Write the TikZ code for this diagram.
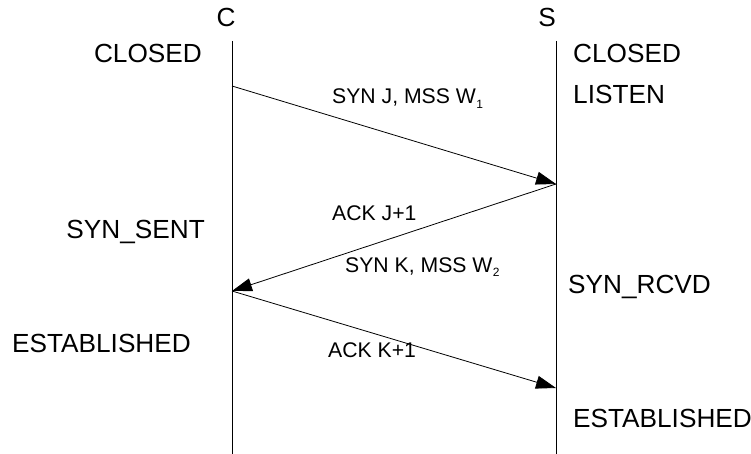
\documentclass[tikz,border=0pt]{standalone}
\usepackage{fontspec}
\setmainfont{Liberation Sans}
\usetikzlibrary{arrows.meta}
\newcommand{\sub}[1]{\kern0.5pt\raisebox{-0.4ex}{\fontsize{12}{12}\selectfont #1}}
\begin{document}
\begin{tikzpicture}[x=1pt,y=-1pt,
  state/.style={inner sep=0pt,font=\fontsize{26.2}{29}\selectfont},
  msg/.style={inner sep=0pt,font=\fontsize{21.2}{24}\selectfont},
  life/.style={line width=0.8pt},
  seg/.style={line width=0.8pt,-{Triangle[length=20pt,width=13pt]}}]
\useasboundingbox (0,0) rectangle (751,454);
% timelines
\coordinate (ctop) at (232,41);
\coordinate (cbot) at (232,454);
\coordinate (stop) at (556,41);
\coordinate (sbot) at (556,454);
\draw[life] (ctop) -- (cbot);
\draw[life] (stop) -- (sbot);
% end points of segments
\coordinate (c1) at (232,86);
\coordinate (s1) at (556,184);
\coordinate (c2) at (232,291);
\coordinate (s2) at (556,388);
\draw[seg] (c1) -- (s1);
\draw[seg] (s1) -- (c2);
\draw[seg] (c2) -- (s2);
% headers
\node[state,anchor=base] (hc) at (226,27) {C};
\node[state,anchor=base] (hs) at (547,27) {S};
% client states
\node[state,anchor=base east] (cclosed) at (202,63) {CLOSED};
\node[state,anchor=base east] (csent) at (205,238) {SYN\_SENT};
\node[state,anchor=base west] (cest) at (12,352) {ESTABLISHED};
% server states
\node[state,anchor=base west] (sclosed) at (573,63) {CLOSED};
\node[state,anchor=base west] (slisten) at (573,104) {LISTEN};
\node[state,anchor=base west] (srcvd) at (568,293) {SYN\_RCVD};
\node[state,anchor=base west] (sest) at (573,427) {ESTABLISHED};
% segment labels
\node[msg,anchor=base west] (m1) at (332,104) {SYN J, MSS W\sub{1}};
\node[msg,anchor=base west] (m2) at (332,220) {ACK J+1};
\node[msg,anchor=base west] (m3) at (345,272) {SYN K, MSS W\sub{2}};
\node[msg,anchor=base west] (m4) at (328,357) {ACK K+1};
\end{tikzpicture}
\end{document}
